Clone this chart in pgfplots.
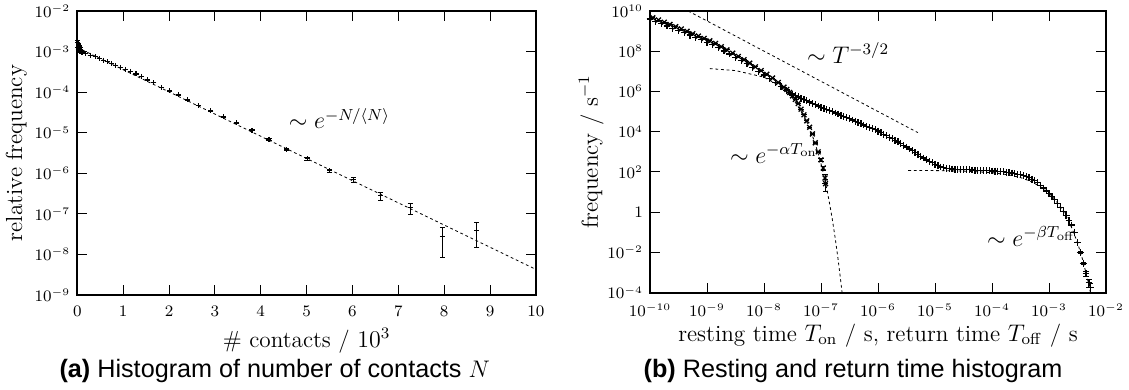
\documentclass[border=0pt]{standalone}
\usepackage[no-math]{fontspec}
\newfontfamily\capfont{Liberation Sans}
\usepackage{pgfplots}
\pgfplotsset{compat=1.18}
\pgfplotstableread{
x y e
0.000 1.85e-3 5e-6
0.006 1.25e-3 4e-6
0.012 1.70e-3 5e-6
0.018 1.12e-3 4e-6
0.024 1.58e-3 5e-6
0.030 1.08e-3 4e-6
0.036 1.45e-3 4e-6
0.042 1.05e-3 4e-6
0.048 1.35e-3 4e-6
0.055 1.02e-3 4e-6
0.062 1.25e-3 4e-6
0.070 9.9e-4 4e-6
0.078 1.15e-3 4e-6
0.087 9.7e-4 4e-6
0.097 1.06e-3 4e-6
0.11 9.4e-4 4e-6
0.17 8.91e-4 3.5e-6
0.28 8.13e-4 3.3e-6
0.39 7.41e-4 3.2e-6
0.48 6.76e-4 3.0e-6
0.57 6.17e-4 2.9e-6
0.66 5.62e-4 2.8e-6
0.75 5.13e-4 2.6e-6
0.84 4.57e-4 2.5e-6
0.95 4.07e-4 2.3e-6
1.05 3.63e-4 2.2e-6
1.16 3.24e-4 2.1e-6
1.28 2.82e-4 1.9e-6
1.40 2.45e-4 1.8e-6
1.53 2.00e-4 1.6e-6
1.67 1.70e-4 1.5e-6
1.84 1.32e-4 1.3e-6
2.01 1.07e-4 1.2e-6
2.20 8.51e-5 1.07e-6
2.40 6.46e-5 9.3e-7
2.64 4.68e-5 7.9e-7
2.91 3.47e-5 6.8e-7
3.19 2.45e-5 5.7e-7
3.47 1.74e-5 4.8e-7
3.81 1.15e-5 3.9e-7
4.18 6.92e-6 3.1e-7
4.57 3.89e-6 2.3e-7
5.01 2.29e-6 1.75e-7
5.50 1.15e-6 1.24e-7
6.02 6.92e-7 9.7e-8
6.62 2.82e-7 6.2e-8
7.26 1.41e-7 4.4e-8
7.96 2.75e-8 1.9e-8
8.71 3.80e-8 2.3e-8
}\contacts
\pgfplotstableread{
x y e
1e-10 3.98e9 0
1.259e-10 3.07e9 0
1.585e-10 2.37e9 0
1.995e-10 1.82e9 0
2.512e-10 1.40e9 0
3.162e-10 1.08e9 0
3.981e-10 8.28e8 0
5.012e-10 6.32e8 0
6.310e-10 4.83e8 0
7.943e-10 3.68e8 0
1e-9 2.81e8 0
1.259e-9 2.15e8 0
1.585e-9 1.50e8 0
1.995e-9 1.04e8 0
2.512e-9 7.21e7 0
3.162e-9 5.00e7 0
3.981e-9 3.46e7 0
5.012e-9 2.40e7 0
6.310e-9 1.56e7 0
7.943e-9 1.01e7 0
1e-8 6.59e6 0
1.259e-8 4.29e6 0
1.585e-8 2.77e6 0
1.995e-8 1.79e6 0
2.512e-8 1.15e6 0
2.818e-8 9.23e5 0
3.162e-8 7.40e5 0
3.548e-8 6.28e5 0
3.981e-8 5.40e5 0
4.467e-8 4.65e5 0
5.012e-8 4.00e5 0
5.623e-8 3.44e5 0
6.310e-8 2.96e5 0
7.079e-8 2.55e5 0
7.943e-8 2.19e5 0
8.913e-8 1.88e5 0
1e-7 1.62e5 0
1.122e-7 1.43e5 0
1.259e-7 1.26e5 0
1.413e-7 1.10e5 0
1.585e-7 9.73e4 0
1.778e-7 8.55e4 0
1.995e-7 7.53e4 0
2.239e-7 6.62e4 0
2.512e-7 5.83e4 0
2.818e-7 5.13e4 0
3.162e-7 4.45e4 0
3.548e-7 3.85e4 0
3.981e-7 3.35e4 0
4.467e-7 2.90e4 0
5.012e-7 2.52e4 0
5.623e-7 2.18e4 0
6.310e-7 1.89e4 0
7.079e-7 1.64e4 0
7.943e-7 1.43e4 0
8.913e-7 1.24e4 0
1e-6 1.07e4 0
1.122e-6 8.99e3 0
1.259e-6 7.53e3 0
1.413e-6 6.32e3 0
1.585e-6 5.31e3 0
1.778e-6 4.46e3 0
1.995e-6 3.73e3 0
2.239e-6 3.13e3 0
2.512e-6 2.63e3 0
2.818e-6 2.13e3 0
3.162e-6 1.73e3 0
3.548e-6 1.40e3 0
3.981e-6 1.14e3 0
4.467e-6 923 0
5.012e-6 748 0
5.623e-6 607 0
6.310e-6 491 0
7.079e-6 398 0
7.943e-6 338 0
8.913e-6 287 0
1e-5 244 0
1.122e-5 207 0
1.259e-5 178 0
1.413e-5 162 0
1.585e-5 151 0
1.778e-5 145 0
1.995e-5 141 0
2.239e-5 138 0
2.512e-5 135 0
2.818e-5 132 0
3.162e-5 132 0
3.548e-5 129 0
3.981e-5 129 0
4.467e-5 126 0
5.012e-5 123 0
5.623e-5 123 0
6.310e-5 120 0
7.079e-5 117 0
7.943e-5 117 0
8.913e-5 115 0
1e-4 112 0
1.122e-4 110 0
1.259e-4 107 0
1.413e-4 105 0
1.585e-4 102 0
1.778e-4 97.7 0
1.995e-4 93.3 0
2.239e-4 89.1 0
2.512e-4 83.2 0
2.818e-4 77.6 0
3.162e-4 72.4 0
3.548e-4 66.1 0
3.981e-4 58.9 0
4.467e-4 51.3 0
5.012e-4 43.7 0
5.623e-4 36.3 0
6.310e-4 28.8 0
7.079e-4 21.9 0
7.943e-4 15.8 0
8.913e-4 11.5 0
1e-3 8.32 0
1.122e-3 5.89 0
1.259e-3 4.17 0
1.413e-3 2.75 0
1.585e-3 1.78 0
1.778e-3 1.12 0
1.995e-3 0.676 0
2.239e-3 0.398 0
2.512e-3 0.234 0
2.818e-3 0.100 0.0025
3.162e-3 0.0316 0.0014
3.548e-3 0.0100 7.9e-4
3.981e-3 2.82e-3 4.2e-4
4.467e-3 8.91e-4 2.4e-4
5.012e-3 3.16e-4 1.4e-4
5.370e-3 1.78e-4 1.05e-4
}\toff
\pgfplotstableread{
x y e
1.122e-10 4.61e9 0
1.413e-10 3.57e9 0
1.778e-10 2.77e9 0
2.239e-10 2.14e9 0
2.818e-10 1.66e9 0
3.548e-10 1.28e9 0
4.467e-10 9.75e8 0
5.623e-10 7.45e8 0
7.079e-10 5.69e8 0
8.913e-10 4.35e8 0
1.122e-9 3.31e8 0
1.413e-9 2.43e8 0
1.778e-9 1.68e8 0
2.239e-9 1.16e8 0
2.818e-9 8.00e7 0
3.548e-9 5.52e7 0
4.467e-9 3.81e7 0
5.623e-9 2.56e7 0
7.079e-9 1.67e7 0
8.913e-9 1.09e7 0
1.122e-8 7.13e6 0
1.413e-8 4.66e6 0
1.778e-8 2.78e6 0
2.239e-8 1.64e6 0
2.512e-8 1.26e6 0
2.818e-8 8.91e5 0
3.162e-8 6.03e5 0
3.548e-8 4.07e5 0
3.981e-8 2.51e5 0
4.467e-8 1.32e5 0
5.012e-8 6.92e4 0
5.623e-8 3.47e4 0
6.310e-8 1.66e4 0
7.079e-8 7.76e3 270
7.943e-8 2.82e3 165
8.913e-8 1.00e3 98
1e-7 398 62
1.096e-7 158 39
1.175e-7 50.1 22
1.202e-7 26.3 16
}\ton
\begin{document}
\begin{tikzpicture}
\path[use as bounding box] (0,0) rectangle (564.5pt,195pt);
\pgfplotsset{
  every axis/.append style={
    scale only axis, anchor=south west,
    tick align=inside,
    xminorticks=false, yminorticks=false,
    major tick length=4.8pt,
    axis line style={line width=0.9pt},
    tick style={line width=0.5pt, black},
    tick label style={font=\fontsize{7.75}{9}\selectfont},
    xticklabel style={yshift=-2pt},
    label style={font=\fontsize{11.6}{13}\selectfont},
  },
  dat/.style={only marks, black, line width=0.55pt,
    error bars/y dir=both, error bars/y explicit,
    error bars/error bar style={line width=0.45pt},
    error bars/error mark options={rotate=90, mark size=1.3pt, line width=0.45pt}},
  fit/.style={black, line width=0.4pt, dash pattern=on 1.4pt off 1.4pt},
}
\begin{axis}[
  at={(38.65pt,47.5pt)}, width=229.3pt, height=142pt,
  xmin=0, xmax=10, xtick={0,1,2,3,4,5,6,7,8,9,10},
  ymode=log, ymin=1e-9, ymax=1e-2,
  ytick={1e-9,1e-8,1e-7,1e-6,1e-5,1e-4,1e-3,1e-2},
  xlabel={\# contacts / $10^3$}, ylabel={relative frequency},
  xlabel style={yshift=1pt}, ylabel shift=-3pt,
]
\addplot[fit] coordinates {(0,1.26e-3) (10,4.27e-9)};
\addplot[dat, mark=+, mark size=1.25pt] table[x=x, y=y, y error=e] {\contacts};
\node[anchor=west, font=\fontsize{11.6}{13}\selectfont] at (axis cs:4.46,2.24e-5) {$\sim e^{-N/\langle N\rangle}$};
\end{axis}
\begin{axis}[
  at={(325pt,48.65pt)}, width=228pt, height=140.85pt,
  xmode=log, ymode=log, xmin=1e-10, xmax=1e-2, ymin=1e-4, ymax=1e10,
  xtick={1e-10,1e-9,1e-8,1e-7,1e-6,1e-5,1e-4,1e-3,1e-2},
  ytick={1e-4,1e-2,1,1e2,1e4,1e6,1e8,1e10},
  yticklabels={$10^{-4}$,$10^{-2}$,$1$,$10^{2}$,$10^{4}$,$10^{6}$,$10^{8}$,$10^{10}$},
  xlabel={resting time $T_{\mathrm{on}}$ / s, return time $T_{\mathrm{off}}$ / s},
  ylabel={frequency / s$^{-1}$},
  xlabel style={yshift=3pt}, ylabel shift=-5pt,
]
\addplot[fit] coordinates {(4.677e-10,1e10) (5.012e-6,9016)};
\addplot[fit] coordinates {(1.122e-9,1.368e7) (3.162e-9,1.094e7) (1e-8,5.15e6) (1.995e-8,1.726e6) (3.162e-8,4.78e5) (5.012e-8,6.25e4) (6.31e-8,1.50e4) (7.943e-8,2.49e3) (1e-7,259) (1.122e-7,67.6) (1.259e-7,15.0) (1.413e-7,2.75) (1.585e-7,0.415) (1.778e-7,0.0497) (1.995e-7,4.57e-3) (2.239e-7,3.12e-4) (2.399e-7,5.4e-5)};
\addplot[fit] coordinates {(3.388e-6,119.1) (1e-5,117.2) (3.162e-5,110.7) (1e-4,92.5) (1.995e-4,71.3) (3.162e-4,52.5) (5.012e-4,32.4) (7.943e-4,15.0) (1e-3,8.75) (1.259e-3,4.44) (1.585e-3,1.89) (1.995e-3,0.646) (2.512e-3,0.166) (3.162e-3,0.0303) (3.981e-3,3.55e-3) (5.012e-3,2.38e-4) (5.623e-3,4.8e-5)};
\addplot[dat, mark=x, mark size=1.7pt, line width=0.65pt] table[x=x, y=y, y error=e] {\ton};
\addplot[dat, mark=+, mark size=1.7pt, line width=0.65pt] table[x=x, y=y, y error=e] {\toff};
\node[anchor=west, font=\fontsize{11.6}{13}\selectfont] at (axis cs:4.27e-8,7.94e7) {$\sim T^{-3/2}$};
\node[anchor=west, font=\fontsize{11.6}{13}\selectfont] at (axis cs:1.905e-9,794) {$\sim e^{-\alpha T_{\mathrm{on}}}$};
\node[anchor=west, font=\fontsize{11.6}{13}\selectfont] at (axis cs:6.17e-5,0.0617) {$\sim e^{-\beta T_{\mathrm{off}}}$};
\end{axis}
\node[anchor=base, font=\capfont\fontsize{12.6}{15}\selectfont] at (137.35pt,6.35pt) {\textbf{(a)} Histogram of number of contacts $N$};
\node[anchor=base, font=\capfont\fontsize{12.6}{15}\selectfont] at (426.5pt,6.35pt) {\textbf{(b)} Resting and return time histogram};
\end{tikzpicture}
\end{document}
